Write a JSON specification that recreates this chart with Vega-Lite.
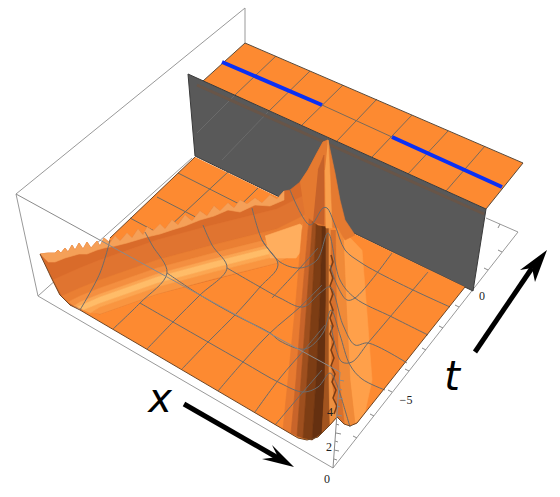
{"$schema":"https://vega.github.io/schema/vega-lite/v6.json","width":560,"height":497,"padding":0,"autosize":{"type":"none"},"config":{"view":{"stroke":null}},"encoding":{"x":{"field":"x","type":"quantitative","axis":null,"scale":{"domain":[0,560],"nice":false,"zero":false}},"y":{"field":"y","type":"quantitative","axis":null,"scale":{"domain":[497,0],"nice":false,"zero":false}}},
"datasets":{
"boxback":[{"p":"a","x":245,"y":43},{"p":"a","x":245,"y":8},{"p":"a","x":16,"y":194},{"p":"a","x":38,"y":296},{"p":"a","x":333,"y":468},{"p":"a","x":518,"y":232},{"p":"a","x":486,"y":218},{"p":"b","x":38,"y":296},{"p":"b","x":192,"y":158}],
"plate":[{"x":245,"y":43},{"x":523,"y":163},{"x":486,"y":209},{"x":203,"y":81}],
"plategrid":[{"p":"m","x":322,"y":105},{"p":"m","x":392,"y":137},{"p":"a","x":276,"y":56},{"p":"a","x":235,"y":95},{"p":"b","x":310,"y":71},{"p":"b","x":268,"y":112},{"p":"c","x":343,"y":85},{"p":"c","x":302,"y":125},{"p":"d","x":377,"y":99},{"p":"d","x":336,"y":142},{"p":"e","x":412,"y":115},{"p":"e","x":372,"y":157},{"p":"f","x":448,"y":131},{"p":"f","x":408,"y":174},{"p":"g","x":485,"y":146},{"p":"g","x":446,"y":191}],
"plateedge":[{"p":"a","x":203,"y":81},{"p":"a","x":245,"y":43},{"p":"a","x":523,"y":163},{"p":"a","x":486,"y":209}],
"blue":[{"p":"a","x":222,"y":62},{"p":"a","x":322,"y":105},{"p":"b","x":392,"y":137},{"p":"b","x":502,"y":187}],
"wall":[{"x":188,"y":74},{"x":486,"y":209},{"x":473,"y":291},{"x":195,"y":156}],
"wallfaint":[{"p":"a","x":235,"y":95},{"p":"a","x":197,"y":133},{"p":"b","x":268,"y":112},{"p":"b","x":222,"y":160}],
"wallshade":[{"p":"a","x":197,"y":85},{"p":"a","x":484,"y":214}],
"walledge":[{"p":"a","x":195,"y":156},{"p":"a","x":188,"y":74},{"p":"a","x":486,"y":209},{"p":"a","x":473,"y":291},{"p":"a","x":195,"y":156}],
"floor":[{"x":195,"y":157},{"x":465,"y":287},{"x":357,"y":423},{"x":350,"y":426},{"x":344,"y":424},{"x":337,"y":417},{"x":330,"y":425},{"x":318,"y":437},{"x":307,"y":440},{"x":298,"y":438},{"x":80,"y":310},{"x":110,"y":238}],
"floorgrid":[{"p":"a","x":228,"y":172},{"p":"a","x":185,"y":212},{"p":"a","x":150,"y":245},{"p":"b","x":258,"y":188},{"p":"b","x":210,"y":235},{"p":"c","x":178,"y":173},{"p":"c","x":257,"y":213},{"p":"c","x":300,"y":235},{"p":"d","x":157,"y":197},{"p":"d","x":240,"y":240},{"p":"e","x":130,"y":218},{"p":"e","x":190,"y":250}],
"surf":[
{"p":"h","x":40,"y":254},{"p":"h","x":48,"y":253},{"p":"h","x":55,"y":253},{"p":"h","x":58,"y":250},{"p":"h","x":61,"y":253},{"p":"h","x":65,"y":248},{"p":"h","x":68,"y":252},{"p":"h","x":72,"y":245},{"p":"h","x":75,"y":250},{"p":"h","x":79,"y":243},{"p":"h","x":83,"y":249},{"p":"h","x":87,"y":242},{"p":"h","x":91,"y":248},{"p":"h","x":97,"y":241},{"p":"h","x":100,"y":246},{"p":"h","x":104,"y":238},{"p":"h","x":110,"y":243},{"p":"h","x":115,"y":236},{"p":"h","x":120,"y":241},{"p":"h","x":127,"y":233},{"p":"h","x":132,"y":238},{"p":"h","x":138,"y":229},{"p":"h","x":143,"y":235},{"p":"h","x":147,"y":227},{"p":"h","x":153,"y":231},{"p":"h","x":160,"y":224},{"p":"h","x":165,"y":229},{"p":"h","x":172,"y":220},{"p":"h","x":178,"y":225},{"p":"h","x":185,"y":215},{"p":"h","x":192,"y":221},{"p":"h","x":200,"y":211},{"p":"h","x":207,"y":216},{"p":"h","x":214,"y":206},{"p":"h","x":220,"y":211},{"p":"h","x":228,"y":203},{"p":"h","x":234,"y":208},{"p":"h","x":240,"y":200},{"p":"h","x":247,"y":204},{"p":"h","x":255,"y":198},{"p":"h","x":262,"y":203},{"p":"h","x":270,"y":195},{"p":"h","x":277,"y":199},{"p":"h","x":284,"y":191},{"p":"h","x":290,"y":190},{"p":"h","x":300,"y":182},{"p":"h","x":308,"y":170},{"p":"h","x":317,"y":153},{"p":"h","x":323,"y":142},{"p":"h","x":328,"y":140},{"p":"h","x":330,"y":230},{"p":"h","x":322,"y":224},{"p":"h","x":305,"y":249},{"p":"h","x":277,"y":263},{"p":"h","x":157,"y":294},{"p":"h","x":100,"y":314},{"p":"h","x":83,"y":310},{"p":"h","x":70,"y":305},{"p":"h","x":60,"y":295},{"p":"h","x":50,"y":275},
{"p":"saw","x":40,"y":254},{"p":"saw","x":48,"y":253},{"p":"saw","x":55,"y":253},{"p":"saw","x":58,"y":250},{"p":"saw","x":61,"y":253},{"p":"saw","x":65,"y":248},{"p":"saw","x":68,"y":252},{"p":"saw","x":72,"y":245},{"p":"saw","x":75,"y":250},{"p":"saw","x":79,"y":243},{"p":"saw","x":83,"y":249},{"p":"saw","x":87,"y":242},{"p":"saw","x":91,"y":248},{"p":"saw","x":97,"y":241},{"p":"saw","x":100,"y":246},{"p":"saw","x":104,"y":238},{"p":"saw","x":110,"y":243},{"p":"saw","x":115,"y":236},{"p":"saw","x":120,"y":241},{"p":"saw","x":127,"y":233},{"p":"saw","x":132,"y":238},{"p":"saw","x":138,"y":229},{"p":"saw","x":143,"y":235},{"p":"saw","x":147,"y":227},{"p":"saw","x":153,"y":231},{"p":"saw","x":160,"y":224},{"p":"saw","x":165,"y":229},{"p":"saw","x":172,"y":220},{"p":"saw","x":178,"y":225},{"p":"saw","x":185,"y":215},{"p":"saw","x":192,"y":221},{"p":"saw","x":200,"y":211},{"p":"saw","x":207,"y":216},{"p":"saw","x":214,"y":206},{"p":"saw","x":220,"y":211},{"p":"saw","x":228,"y":203},{"p":"saw","x":234,"y":208},{"p":"saw","x":240,"y":200},{"p":"saw","x":247,"y":204},{"p":"saw","x":255,"y":198},{"p":"saw","x":262,"y":203},{"p":"saw","x":270,"y":195},{"p":"saw","x":277,"y":199},{"p":"saw","x":284,"y":191},{"p":"saw","x":284,"y":200},{"p":"saw","x":270,"y":206},{"p":"saw","x":255,"y":205},{"p":"saw","x":240,"y":212},{"p":"saw","x":228,"y":210},{"p":"saw","x":214,"y":216},{"p":"saw","x":200,"y":220},{"p":"saw","x":185,"y":226},{"p":"saw","x":172,"y":230},{"p":"saw","x":160,"y":234},{"p":"saw","x":147,"y":237},{"p":"saw","x":127,"y":243},{"p":"saw","x":115,"y":246},{"p":"saw","x":104,"y":248},{"p":"saw","x":97,"y":250},{"p":"saw","x":87,"y":254},{"p":"saw","x":79,"y":254},{"p":"saw","x":72,"y":256},{"p":"saw","x":65,"y":258},{"p":"saw","x":55,"y":262},{"p":"saw","x":48,"y":262},
{"p":"s1","x":53,"y":280},{"p":"s1","x":80,"y":268},{"p":"s1","x":100,"y":260},{"p":"s1","x":157,"y":240},{"p":"s1","x":213,"y":225},{"p":"s1","x":277,"y":209},{"p":"s1","x":305,"y":195},{"p":"s1","x":322,"y":170},{"p":"s1","x":322,"y":190},{"p":"s1","x":305,"y":215},{"p":"s1","x":277,"y":229},{"p":"s1","x":213,"y":245},{"p":"s1","x":157,"y":260},{"p":"s1","x":100,"y":280},{"p":"s1","x":80,"y":288},{"p":"s1","x":62,"y":296},
{"p":"s2","x":62,"y":296},{"p":"s2","x":80,"y":288},{"p":"s2","x":100,"y":280},{"p":"s2","x":157,"y":260},{"p":"s2","x":213,"y":245},{"p":"s2","x":277,"y":229},{"p":"s2","x":305,"y":215},{"p":"s2","x":322,"y":190},{"p":"s2","x":322,"y":198},{"p":"s2","x":305,"y":223},{"p":"s2","x":277,"y":237},{"p":"s2","x":213,"y":253},{"p":"s2","x":157,"y":268},{"p":"s2","x":100,"y":288},{"p":"s2","x":80,"y":296},{"p":"s2","x":68,"y":302},
{"p":"s3","x":68,"y":302},{"p":"s3","x":80,"y":296},{"p":"s3","x":100,"y":288},{"p":"s3","x":157,"y":268},{"p":"s3","x":213,"y":253},{"p":"s3","x":277,"y":237},{"p":"s3","x":305,"y":223},{"p":"s3","x":322,"y":198},{"p":"s3","x":322,"y":204},{"p":"s3","x":305,"y":229},{"p":"s3","x":277,"y":243},{"p":"s3","x":213,"y":259},{"p":"s3","x":157,"y":274},{"p":"s3","x":100,"y":294},{"p":"s3","x":80,"y":302},{"p":"s3","x":74,"y":306},
{"p":"s4","x":74,"y":306},{"p":"s4","x":80,"y":302},{"p":"s4","x":100,"y":294},{"p":"s4","x":157,"y":274},{"p":"s4","x":213,"y":259},{"p":"s4","x":277,"y":243},{"p":"s4","x":305,"y":229},{"p":"s4","x":322,"y":204},{"p":"s4","x":322,"y":207},{"p":"s4","x":305,"y":232},{"p":"s4","x":277,"y":246},{"p":"s4","x":213,"y":262},{"p":"s4","x":157,"y":277},{"p":"s4","x":100,"y":297},{"p":"s4","x":77,"y":307},
{"p":"s7","x":90,"y":313},{"p":"s7","x":100,"y":307},{"p":"s7","x":157,"y":287},{"p":"s7","x":213,"y":272},{"p":"s7","x":277,"y":256},{"p":"s7","x":305,"y":242},{"p":"s7","x":322,"y":217},{"p":"s7","x":322,"y":224},{"p":"s7","x":305,"y":249},{"p":"s7","x":277,"y":263},{"p":"s7","x":213,"y":279},{"p":"s7","x":157,"y":294},{"p":"s7","x":100,"y":314},
{"p":"s6","x":83,"y":310},{"p":"s6","x":100,"y":303},{"p":"s6","x":157,"y":283},{"p":"s6","x":213,"y":268},{"p":"s6","x":277,"y":252},{"p":"s6","x":305,"y":238},{"p":"s6","x":322,"y":213},{"p":"s6","x":322,"y":217},{"p":"s6","x":305,"y":242},{"p":"s6","x":277,"y":256},{"p":"s6","x":213,"y":272},{"p":"s6","x":157,"y":287},{"p":"s6","x":100,"y":307},{"p":"s6","x":90,"y":313},
{"p":"s5","x":77,"y":307},{"p":"s5","x":100,"y":297},{"p":"s5","x":157,"y":277},{"p":"s5","x":213,"y":262},{"p":"s5","x":277,"y":246},{"p":"s5","x":305,"y":232},{"p":"s5","x":322,"y":207},{"p":"s5","x":322,"y":213},{"p":"s5","x":305,"y":238},{"p":"s5","x":277,"y":252},{"p":"s5","x":213,"y":268},{"p":"s5","x":157,"y":283},{"p":"s5","x":100,"y":303},{"p":"s5","x":83,"y":310},
{"p":"glow","x":265,"y":236},{"p":"glow","x":300,"y":224},{"p":"glow","x":312,"y":236},{"p":"glow","x":296,"y":258},{"p":"glow","x":270,"y":258},
{"p":"k","x":362,"y":250},{"p":"k","x":366,"y":300},{"p":"k","x":372,"y":380},{"p":"k","x":365,"y":412},{"p":"k","x":357,"y":423},{"p":"k","x":355,"y":424},{"p":"k","x":350,"y":380},{"p":"k","x":346,"y":300},{"p":"k","x":343,"y":230},
{"p":"r0","x":308,"y":200},{"p":"r0","x":302,"y":230},{"p":"r0","x":296,"y":300},{"p":"r0","x":288,"y":380},{"p":"r0","x":283,"y":429},{"p":"r0","x":291,"y":433},{"p":"r0","x":296,"y":380},{"p":"r0","x":302,"y":300},{"p":"r0","x":308,"y":230},{"p":"r0","x":311,"y":200},
{"p":"r1","x":311,"y":200},{"p":"r1","x":308,"y":230},{"p":"r1","x":302,"y":300},{"p":"r1","x":296,"y":380},{"p":"r1","x":291,"y":433},{"p":"r1","x":297,"y":436},{"p":"r1","x":301,"y":380},{"p":"r1","x":307,"y":300},{"p":"r1","x":312,"y":230},{"p":"r1","x":313,"y":200},
{"p":"r2","x":313,"y":200},{"p":"r2","x":312,"y":230},{"p":"r2","x":307,"y":300},{"p":"r2","x":301,"y":380},{"p":"r2","x":297,"y":436},{"p":"r2","x":303,"y":438},{"p":"r2","x":307,"y":380},{"p":"r2","x":312,"y":300},{"p":"r2","x":316,"y":230},{"p":"r2","x":315,"y":200},
{"p":"r3","x":315,"y":200},{"p":"r3","x":316,"y":230},{"p":"r3","x":312,"y":300},{"p":"r3","x":307,"y":380},{"p":"r3","x":303,"y":438},{"p":"r3","x":312,"y":440},{"p":"r3","x":316,"y":380},{"p":"r3","x":320,"y":300},{"p":"r3","x":322,"y":230},{"p":"r3","x":319,"y":200},
{"p":"r4","x":319,"y":200},{"p":"r4","x":322,"y":230},{"p":"r4","x":320,"y":300},{"p":"r4","x":316,"y":380},{"p":"r4","x":312,"y":440},{"p":"r4","x":322,"y":433},{"p":"r4","x":325,"y":380},{"p":"r4","x":326,"y":300},{"p":"r4","x":326,"y":230},{"p":"r4","x":325,"y":200},
{"p":"r5","x":325,"y":200},{"p":"r5","x":326,"y":230},{"p":"r5","x":326,"y":300},{"p":"r5","x":325,"y":380},{"p":"r5","x":322,"y":433},{"p":"r5","x":330,"y":425},{"p":"r5","x":329,"y":380},{"p":"r5","x":329,"y":300},{"p":"r5","x":329,"y":230},{"p":"r5","x":329,"y":200},
{"p":"r6","x":329,"y":200},{"p":"r6","x":329,"y":230},{"p":"r6","x":329,"y":300},{"p":"r6","x":329,"y":380},{"p":"r6","x":330,"y":425},{"p":"r6","x":337,"y":417},{"p":"r6","x":332,"y":380},{"p":"r6","x":331,"y":300},{"p":"r6","x":331,"y":230},
{"p":"r7","x":331,"y":230},{"p":"r7","x":331,"y":300},{"p":"r7","x":332,"y":380},{"p":"r7","x":337,"y":417},{"p":"r7","x":345,"y":424},{"p":"r7","x":340,"y":380},{"p":"r7","x":337,"y":300},{"p":"r7","x":336,"y":230},
{"p":"r8","x":336,"y":230},{"p":"r8","x":337,"y":300},{"p":"r8","x":340,"y":380},{"p":"r8","x":345,"y":424},{"p":"r8","x":355,"y":424},{"p":"r8","x":350,"y":380},{"p":"r8","x":346,"y":300},{"p":"r8","x":343,"y":230},
{"p":"pa","x":300,"y":182},{"p":"pa","x":308,"y":170},{"p":"pa","x":317,"y":153},{"p":"pa","x":323,"y":142},{"p":"pa","x":328,"y":140},{"p":"pa","x":335,"y":173},{"p":"pa","x":340,"y":200},{"p":"pa","x":345,"y":220},{"p":"pa","x":355,"y":235},{"p":"pa","x":345,"y":240},{"p":"pa","x":338,"y":228},{"p":"pa","x":318,"y":225},{"p":"pa","x":305,"y":215},
{"p":"pd","x":318,"y":170},{"p":"pd","x":324,"y":155},{"p":"pd","x":324,"y":225},{"p":"pd","x":313,"y":222},
{"p":"pc","x":328,"y":140},{"p":"pc","x":330,"y":175},{"p":"pc","x":332,"y":228},{"p":"pc","x":326,"y":228},{"p":"pc","x":325,"y":170}],
"grid":[
{"p":"x1","x":80,"y":310},{"p":"x1","x":100,"y":273},{"p":"x1","x":110,"y":240},
{"p":"x2","x":113,"y":329},{"p":"x2","x":140,"y":303},{"p":"x2","x":167,"y":273},{"p":"x2","x":152,"y":245},{"p":"x2","x":145,"y":232},
{"p":"x3","x":147,"y":349},{"p":"x3","x":173,"y":322},{"p":"x3","x":200,"y":295},{"p":"x3","x":227,"y":268},{"p":"x3","x":212,"y":245},{"p":"x3","x":203,"y":225},
{"p":"x4","x":182,"y":369},{"p":"x4","x":208,"y":342},{"p":"x4","x":235,"y":315},{"p":"x4","x":260,"y":287},{"p":"x4","x":278,"y":265},{"p":"x4","x":262,"y":240},{"p":"x4","x":252,"y":208},
{"p":"x5","x":218,"y":391},{"p":"x5","x":243,"y":362},{"p":"x5","x":270,"y":333},{"p":"x5","x":300,"y":307},{"p":"x5","x":322,"y":285},
{"p":"x5b","x":272,"y":298},{"p":"x5b","x":300,"y":268},{"p":"x5b","x":318,"y":248},
{"p":"x6","x":255,"y":412},{"p":"x6","x":280,"y":378},{"p":"x6","x":305,"y":349},{"p":"x6","x":325,"y":325},
{"p":"x7","x":275,"y":425},{"p":"x7","x":303,"y":392},{"p":"x7","x":322,"y":370},
{"p":"ra","x":428,"y":272},{"p":"ra","x":390,"y":317},{"p":"ra","x":368,"y":343},{"p":"ra","x":352,"y":362},{"p":"ra","x":342,"y":362},{"p":"ra","x":335,"y":345},{"p":"ra","x":331,"y":325},
{"p":"rb","x":392,"y":253},{"p":"rb","x":355,"y":298},{"p":"rb","x":347,"y":300},{"p":"rb","x":337,"y":285},{"p":"rb","x":330,"y":265},
{"p":"te","x":140,"y":303},{"p":"te","x":173,"y":322},{"p":"te","x":208,"y":342},{"p":"te","x":243,"y":362},{"p":"te","x":280,"y":383},{"p":"te","x":303,"y":392},{"p":"te","x":318,"y":387},{"p":"te","x":330,"y":373},{"p":"te","x":337,"y":385},{"p":"te","x":342,"y":400},{"p":"te","x":350,"y":427},
{"p":"td","x":167,"y":273},{"p":"td","x":200,"y":295},{"p":"td","x":235,"y":315},{"p":"td","x":270,"y":333},{"p":"td","x":280,"y":341},{"p":"td","x":305,"y":349},{"p":"td","x":323,"y":333},{"p":"td","x":331,"y":310},{"p":"td","x":340,"y":335},{"p":"td","x":350,"y":365},{"p":"td","x":362,"y":379},{"p":"td","x":385,"y":390},
{"p":"tc","x":227,"y":268},{"p":"tc","x":260,"y":287},{"p":"tc","x":280,"y":298},{"p":"tc","x":303,"y":307},{"p":"tc","x":320,"y":293},{"p":"tc","x":330,"y":287},{"p":"tc","x":343,"y":325},{"p":"tc","x":355,"y":345},{"p":"tc","x":368,"y":343},{"p":"tc","x":407,"y":363},
{"p":"tb","x":262,"y":240},{"p":"tb","x":280,"y":262},{"p":"tb","x":300,"y":268},{"p":"tb","x":317,"y":260},{"p":"tb","x":328,"y":233},{"p":"tb","x":340,"y":280},{"p":"tb","x":355,"y":298},{"p":"tb","x":392,"y":317},{"p":"tb","x":428,"y":335},
{"p":"ta","x":290,"y":190},{"p":"ta","x":310,"y":225},{"p":"ta","x":323,"y":208},{"p":"ta","x":327,"y":208},{"p":"ta","x":335,"y":225},{"p":"ta","x":345,"y":250},{"p":"ta","x":360,"y":262},{"p":"ta","x":377,"y":272},{"p":"ta","x":413,"y":290},{"p":"ta","x":450,"y":307}],
"spine":[{"x":331,"y":255},{"x":333,"y":262},{"x":330,"y":270},{"x":333,"y":278},{"x":330,"y":286},{"x":333,"y":294},{"x":330,"y":302},{"x":333,"y":310},{"x":330,"y":318},{"x":333,"y":326},{"x":330,"y":334},{"x":334,"y":342},{"x":331,"y":350},{"x":334,"y":358},{"x":331,"y":366},{"x":335,"y":374},{"x":332,"y":382},{"x":336,"y":390},{"x":333,"y":398},{"x":337,"y":406},{"x":334,"y":414}],
"edge":[{"p":"a","x":40,"y":254},{"p":"a","x":50,"y":275},{"p":"a","x":60,"y":295},{"p":"a","x":70,"y":305},{"p":"a","x":80,"y":310},{"p":"a","x":298,"y":438},{"p":"a","x":307,"y":440},{"p":"a","x":318,"y":437},{"p":"a","x":330,"y":425},{"p":"a","x":337,"y":417},{"p":"a","x":344,"y":424},{"p":"a","x":350,"y":426},{"p":"a","x":357,"y":423},{"p":"a","x":465,"y":287},{"p":"b","x":110,"y":238},{"p":"b","x":195,"y":157}],
"boxfront":[{"p":"a","x":16,"y":194},{"p":"a","x":340,"y":372},{"p":"b","x":333,"y":468},{"p":"b","x":340,"y":372},
{"p":"t1","x":357,"y":438},{"p":"t1","x":353,"y":436},{"p":"t2","x":374,"y":416},{"p":"t2","x":370,"y":414},{"p":"t3","x":392,"y":392},{"p":"t3","x":388,"y":390},{"p":"t4","x":409,"y":371},{"p":"t4","x":405,"y":369},{"p":"t5","x":426,"y":350},{"p":"t5","x":422,"y":348},{"p":"t6","x":443,"y":328},{"p":"t6","x":439,"y":326},{"p":"t7","x":459,"y":307},{"p":"t7","x":455,"y":305},{"p":"t9","x":488,"y":270},{"p":"t9","x":484,"y":268},{"p":"t10","x":502,"y":252},{"p":"t10","x":498,"y":250},{"p":"u1","x":500,"y":224},{"p":"u1","x":498,"y":228},
{"p":"z1","x":334,"y":459},{"p":"z1","x":337,"y":460},{"p":"z2","x":334,"y":450},{"p":"z2","x":339,"y":451},{"p":"z3","x":335,"y":441},{"p":"z3","x":338,"y":442},{"p":"z4","x":336,"y":433},{"p":"z4","x":341,"y":434},{"p":"z5","x":336,"y":424},{"p":"z5","x":339,"y":425},{"p":"z6","x":337,"y":415},{"p":"z6","x":342,"y":416},{"p":"z7","x":337,"y":406},{"p":"z7","x":340,"y":407},{"p":"z8","x":338,"y":398},{"p":"z8","x":343,"y":399},{"p":"z9","x":339,"y":389},{"p":"z9","x":342,"y":390},{"p":"z10","x":339,"y":380},{"p":"z10","x":344,"y":381}],
"arrowline":[{"p":"a","x":184,"y":404},{"p":"a","x":278,"y":458},{"p":"b","x":475,"y":352},{"p":"b","x":532,"y":268}],
"arrowhead":[{"p":"a","x":294,"y":467},{"p":"a","x":262,"y":459},{"p":"a","x":278,"y":457},{"p":"a","x":272,"y":445},{"p":"b","x":547,"y":250},{"p":"b","x":520,"y":270},{"p":"b","x":532,"y":268},{"p":"b","x":535,"y":282}],
"bigtext":[{"label":"x","x":160,"y":412},{"label":"t","x":452,"y":390}],
"ticktext":[{"label":"0","x":482,"y":296},{"label":"−5","x":406,"y":400},{"label":"4","x":330,"y":412},{"label":"2","x":329,"y":447},{"label":"0","x":327,"y":479}]
},
"layer":[
{"data":{"name":"boxback"},"transform":[{"window":[{"op":"row_number","as":"i"}]}],"mark":{"type":"line","stroke":"#999999","strokeWidth":1},"encoding":{"detail":{"field":"p"},"order":{"field":"i"}}},
{"data":{"name":"plate"},"transform":[{"window":[{"op":"row_number","as":"i"}]}],"mark":{"type":"line","fill":"#fd8a31","strokeWidth":0},"encoding":{"order":{"field":"i"}}},
{"data":{"name":"plategrid"},"transform":[{"window":[{"op":"row_number","as":"i"}]}],"mark":{"type":"line","stroke":"#7a6a5a","strokeWidth":1},"encoding":{"detail":{"field":"p"},"order":{"field":"i"}}},
{"data":{"name":"plateedge"},"transform":[{"window":[{"op":"row_number","as":"i"}]}],"mark":{"type":"line","stroke":"#5a4a3a","strokeWidth":1},"encoding":{"detail":{"field":"p"},"order":{"field":"i"}}},
{"data":{"name":"blue"},"transform":[{"window":[{"op":"row_number","as":"i"}]}],"mark":{"type":"line","stroke":"#0a30f5","strokeWidth":4},"encoding":{"detail":{"field":"p"},"order":{"field":"i"}}},
{"data":{"name":"wall"},"transform":[{"window":[{"op":"row_number","as":"i"}]}],"mark":{"type":"line","fill":"#595959","strokeWidth":0},"encoding":{"order":{"field":"i"}}},
{"data":{"name":"wallfaint"},"transform":[{"window":[{"op":"row_number","as":"i"}]}],"mark":{"type":"line","stroke":"#6a6a6a","strokeWidth":1},"encoding":{"detail":{"field":"p"},"order":{"field":"i"}}},
{"data":{"name":"wallshade"},"transform":[{"window":[{"op":"row_number","as":"i"}]}],"mark":{"type":"line","stroke":"#685548","strokeWidth":3},"encoding":{"detail":{"field":"p"},"order":{"field":"i"}}},
{"data":{"name":"walledge"},"transform":[{"window":[{"op":"row_number","as":"i"}]}],"mark":{"type":"line","stroke":"#3a3a3a","strokeWidth":1},"encoding":{"detail":{"field":"p"},"order":{"field":"i"}}},
{"data":{"name":"floor"},"transform":[{"window":[{"op":"row_number","as":"i"}]}],"mark":{"type":"line","fill":"#fd8a31","strokeWidth":0},"encoding":{"order":{"field":"i"}}},
{"data":{"name":"floorgrid"},"transform":[{"window":[{"op":"row_number","as":"i"}]}],"mark":{"type":"line","stroke":"#6f6a60","strokeWidth":1},"encoding":{"detail":{"field":"p"},"order":{"field":"i"}}},
{"data":{"name":"surf"},"transform":[{"window":[{"op":"row_number","as":"i"}]}],"mark":{"type":"line","strokeWidth":0.6},"encoding":{"order":{"field":"i"},"fill":{"field":"p","legend":null,"scale":{"domain":["h","saw","s1","s2","s3","s4","s5","s6","s7","glow","k","r0","r1","r2","r3","r4","r5","r6","r7","r8","pa","pd","pc"],"range":["#d96b2a","#f5a058","#e07430","#ea7f33","#f48f40","#fba552","#ffbc68","#fca651","#f99540","#ffae5e","#ffa04a","#e87a30","#c8642a","#9e4f1e","#7d3d14","#653010","#a2541f","#ee9040","#d8702c","#f08a38","#e57a30","#c6622a","#f9a04c"]}},"stroke":{"field":"p","legend":null,"scale":{"domain":["h","saw","s1","s2","s3","s4","s5","s6","s7","glow","k","r0","r1","r2","r3","r4","r5","r6","r7","r8","pa","pd","pc"],"range":["#d96b2a","#f5a058","#e07430","#ea7f33","#f48f40","#fba552","#ffbc68","#fca651","#f99540","#ffae5e","#ffa04a","#e87a30","#c8642a","#9e4f1e","#7d3d14","#653010","#a2541f","#ee9040","#d8702c","#f08a38","#e57a30","#c6622a","#f9a04c"]}}}},
{"data":{"name":"spine"},"transform":[{"window":[{"op":"row_number","as":"i"}]}],"mark":{"type":"line","stroke":"#7a3c14","strokeWidth":1.5},"encoding":{"order":{"field":"i"}}},
{"data":{"name":"grid"},"transform":[{"window":[{"op":"row_number","as":"i"}]}],"mark":{"type":"line","stroke":"#6b6b6b","strokeWidth":1,"interpolate":"catmull-rom"},"encoding":{"detail":{"field":"p"},"order":{"field":"i"}}},
{"data":{"name":"edge"},"transform":[{"window":[{"op":"row_number","as":"i"}]}],"mark":{"type":"line","stroke":"#6e4524","strokeWidth":1},"encoding":{"detail":{"field":"p"},"order":{"field":"i"}}},
{"data":{"name":"boxfront"},"transform":[{"window":[{"op":"row_number","as":"i"}]}],"mark":{"type":"line","stroke":"#8a8a8a","strokeWidth":1},"encoding":{"detail":{"field":"p"},"order":{"field":"i"}}},
{"data":{"name":"arrowline"},"transform":[{"window":[{"op":"row_number","as":"i"}]}],"mark":{"type":"line","stroke":"#000000","strokeWidth":5},"encoding":{"detail":{"field":"p"},"order":{"field":"i"}}},
{"data":{"name":"arrowhead"},"transform":[{"window":[{"op":"row_number","as":"i"}]}],"mark":{"type":"line","fill":"#000000","strokeWidth":0},"encoding":{"detail":{"field":"p"},"order":{"field":"i"}}},
{"data":{"name":"bigtext"},"mark":{"type":"text","font":"DejaVu Sans","fontStyle":"italic","fontSize":40,"baseline":"alphabetic","align":"center","color":"#000000"},"encoding":{"text":{"field":"label"}}},
{"data":{"name":"ticktext"},"mark":{"type":"text","font":"Liberation Serif","fontSize":12,"baseline":"middle","align":"center","color":"#222222"},"encoding":{"text":{"field":"label"}}}
]}
